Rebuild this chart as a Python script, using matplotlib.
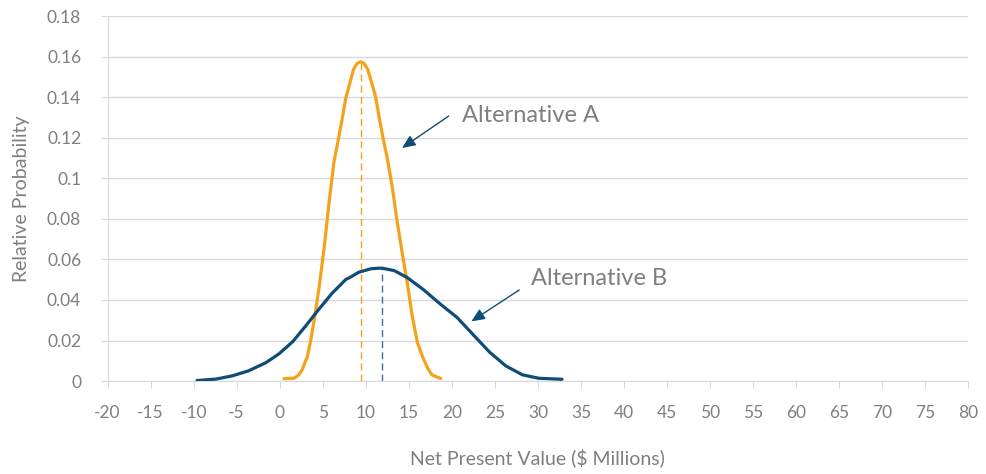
import matplotlib.pyplot as plt

# values
alt_a_x = [0.5, 1.7, 2.2, 2.6, 3.2, 3.6, 4.0, 4.6, 5.2, 5.7, 6.3, 6.8, 7.2, 7.7, 8.15, 8.6, 9.0, 9.4,
           9.8, 10.2, 10.7, 11.15, 11.6, 12.0, 12.5, 13.1, 13.6, 14.2, 14.8, 15.4, 16.0, 16.6,
           17.2, 17.7, 18.7]
alt_a_y = [0.0012, 0.0015, 0.003, 0.0055, 0.012, 0.020, 0.030, 0.047, 0.067, 0.087, 0.108, 0.119,
           0.128, 0.140, 0.147, 0.154, 0.1567, 0.1575, 0.1567, 0.154, 0.147, 0.140, 0.129, 0.120,
           0.110, 0.095, 0.080, 0.064, 0.049, 0.032, 0.019, 0.012, 0.0063, 0.003, 0.0013]

alt_b_x = [-9.6, -7.4, -5.5, -3.6, -1.6, -0.1, 1.5, 3.0, 4.6, 6.1, 7.7, 8.1, 9.2, 10.6, 11.55,
           11.9, 13.3, 14.8, 16.7, 18.6, 20.6, 22.5, 24.4, 26.3, 28.2, 30.1, 32.8]
alt_b_y = [0.0003, 0.001, 0.0026, 0.0051, 0.0091, 0.0134, 0.0194, 0.0271, 0.0357, 0.0434, 0.0502,
           0.0510, 0.0537, 0.0554, 0.0557, 0.0557, 0.0545, 0.0511, 0.0451, 0.0382, 0.0314, 0.0228,
           0.0142, 0.0074, 0.0031, 0.0014, 0.0009]

mean_a = 9.4
mean_b = 11.9

x_ticks = list(range(-20, 81, 5))
y_ticks = [0, 0.02, 0.04, 0.06, 0.08, 0.1, 0.12, 0.14, 0.16, 0.18]
y_labels = ['0', '0.02', '0.04', '0.06', '0.08', '0.1', '0.12', '0.14', '0.16', '0.18']

orange = '#F5A21B'
blue = '#0F4C78'
grey_txt = '#7F7F7F'
grid_c = '#D9D9D9'

plt.rcParams['font.family'] = ['Lato', 'DejaVu Sans']

fig = plt.figure(figsize=(9.87, 4.74), dpi=100)
ax = fig.add_axes([0.109, 0.196, 0.872, 0.770])

ax.plot(alt_a_x, alt_a_y, color=orange, lw=2.3, solid_capstyle='round',
        solid_joinstyle='round', zorder=3)
ax.plot(alt_b_x, alt_b_y, color=blue, lw=2.3, solid_capstyle='round',
        solid_joinstyle='round', zorder=3)

ax.plot([mean_a, mean_a], [0, max(alt_a_y)], color=orange, lw=1, ls=(0, (5, 3)), zorder=2)
ax.plot([mean_b, mean_b], [0, max(alt_b_y)], color='#3F6F92', lw=1, ls=(0, (5, 3)), zorder=2)

ax.set_xlim(-20, 80)
ax.set_ylim(0, 0.18)
ax.set_xticks(x_ticks)
ax.set_xticklabels([str(t) for t in x_ticks])
ax.set_yticks(y_ticks)
ax.set_yticklabels(y_labels)

ax.grid(axis='y', color=grid_c, lw=1)
ax.set_axisbelow(True)
for s in ['top', 'right']:
    ax.spines[s].set_visible(False)
for s in ['left', 'bottom']:
    ax.spines[s].set_color(grid_c)
ax.tick_params(axis='both', colors=grid_c, labelcolor=grey_txt, labelsize=12.5, length=5, direction='out')
ax.tick_params(axis='x', pad=12)
ax.tick_params(axis='y', pad=14)

ax.set_xlabel('Net Present Value ($ Millions)', fontsize=14, color=grey_txt, labelpad=20)
ax.set_ylabel('Relative Probability', fontsize=14, color=grey_txt, labelpad=12)

ax.annotate('', xy=(13.95, 0.1142), xytext=(19.9, 0.1315),
            arrowprops=dict(arrowstyle='-|>,head_length=0.8,head_width=0.35', color=blue, lw=1))
ax.annotate('', xy=(22.0, 0.0287), xytext=(28.1, 0.0457),
            arrowprops=dict(arrowstyle='-|>,head_length=0.8,head_width=0.35', color=blue, lw=1))
ax.text(21.2, 0.131, 'Alternative A', fontsize=17, color=grey_txt, va='center', ha='left')
ax.text(29.2, 0.0505, 'Alternative B', fontsize=17, color=grey_txt, va='center', ha='left')

plt.savefig('out.png', dpi=100)
